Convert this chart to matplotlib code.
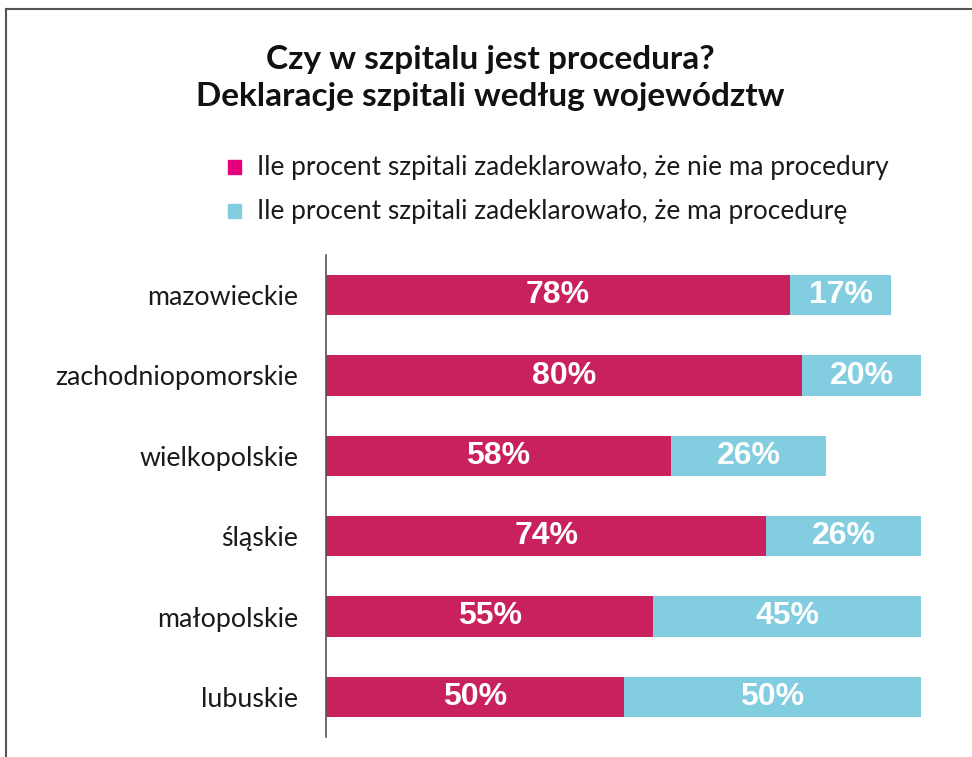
import matplotlib
matplotlib.use("Agg")
import matplotlib.pyplot as plt
from matplotlib.lines import Line2D
from matplotlib.patches import Rectangle

categories = ["mazowieckie", "zachodniopomorskie", "wielkopolskie", "śląskie", "małopolskie", "lubuskie"]
no_procedure = [78, 80, 58, 74, 55, 50]
has_procedure = [17, 20, 26, 26, 45, 50]
legend_labels = ["Ile procent szpitali zadeklarowało, że nie ma procedury",
                 "Ile procent szpitali zadeklarowało, że ma procedurę"]
title = "Czy w szpitalu jest procedura?\nDeklaracje szpitali według województw"

RED = "#C8215D"
BLUE = "#82CDE0"
LEG_RED = "#E4007C"

fig = plt.figure(figsize=(9.72, 7.57), dpi=100)
W, H = 972, 757

ax = fig.add_axes([326 / W, 20 / H, 595 / W, 482 / H])
y = list(range(len(categories)))
ax.barh(y, no_procedure, height=0.5, color=RED)
ax.barh(y, has_procedure, left=no_procedure, height=0.5, color=BLUE)
for i in y:
    ax.text(no_procedure[i] / 2, i, f"{no_procedure[i]}%", ha="center", va="center",
            color="white", fontsize=23, fontweight="bold", family="Liberation Sans")
    ax.text(no_procedure[i] + has_procedure[i] / 2, i, f"{has_procedure[i]}%", ha="center", va="center",
            color="white", fontsize=23, fontweight="bold", family="Liberation Sans")
ax.set_xlim(0, 100)
ax.set_ylim(len(categories) - 0.5, -0.5)
ax.set_yticks(y)
ax.set_yticklabels(categories, family="Lato", fontsize=19.3, color="#1a1a1a")
ax.tick_params(axis="y", length=0, pad=20)
ax.set_xticks([])
for s in ["top", "right", "bottom"]:
    ax.spines[s].set_visible(False)
ax.spines["left"].set_color("#555555")
ax.spines["left"].set_linewidth(1.2)

fig.text(490 / W, 1 - 78 / H, title, ha="center", va="center", fontsize=24,
         fontweight="bold", family="Lato", color="#111111", linespacing=1.32)

# legend
for k, (lab, col) in enumerate(zip(legend_labels, [LEG_RED, BLUE])):
    yc = 167 + k * 44
    fig.patches.append(Rectangle((228 / W, 1 - (yc + 6.5) / H), 13 / W, 13 / H,
                                 transform=fig.transFigure, color=col))
    fig.text(257 / W, 1 - yc / H, lab, ha="left", va="center", fontsize=18.9,
             family="Lato", color="#1a1a1a")

# frame lines
fig.add_artist(Line2D([6 / W, 6 / W], [0, 1 - 9 / H], transform=fig.transFigure, color="#555555", lw=1.5))
fig.add_artist(Line2D([6 / W, 1], [1 - 9 / H, 1 - 9 / H], transform=fig.transFigure, color="#555555", lw=1.5))

fig.savefig("out.png", dpi=100)
